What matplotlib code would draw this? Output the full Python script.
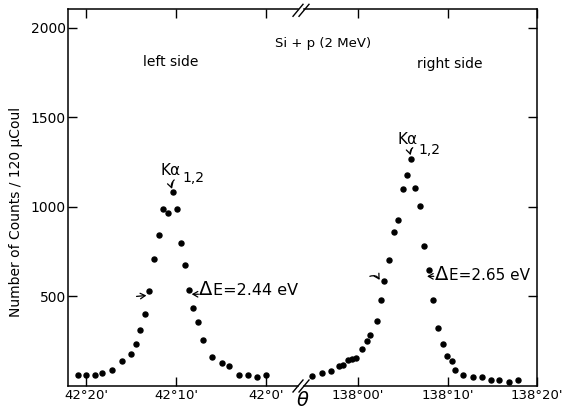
import matplotlib
matplotlib.use("Agg")
import matplotlib.pyplot as plt
from matplotlib.lines import Line2D

# minutes from 42°00' (left side) and from 138°00' (right side)
left_min = [20.9, 20.0, 19.0, 18.2, 17.1, 16.0, 15.0, 14.5, 14.0, 13.5,
            13.0, 12.5, 11.9, 11.4, 10.9, 10.3, 9.9, 9.45, 9.0, 8.5,
            8.1, 7.5, 7.0, 6.0, 4.9, 4.1, 3.0, 1.95, 0.95, 0.0]
left_counts = [59, 64, 64, 72, 91, 142, 180, 236, 310, 403,
               530, 708, 845, 990, 965, 1081, 986, 796, 675, 534,
               437, 356, 258, 161, 130, 109, 64, 64, 49, 64]

right_min = [-5.2, -4.1, -3.1, -2.2, -1.7, -1.2, -0.75, -0.2, 0.4, 0.95,
             1.3, 2.05, 2.6, 2.85, 3.45, 3.95, 4.5, 5.0, 5.5, 5.85,
             6.4, 6.95, 7.4, 7.9, 8.4, 8.9, 9.45, 9.95, 10.45, 10.85,
             11.75, 12.85, 13.9, 14.8, 15.75, 16.85, 17.85]
right_counts = [58, 72, 81, 109, 115, 146, 150, 155, 208, 250,
                282, 362, 481, 584, 701, 859, 928, 1102, 1176, 1266,
                1105, 1005, 779, 649, 481, 325, 236, 169, 137, 87,
                59, 49, 53, 35, 35, 21, 31]

left_ticks = [20, 10, 0]
left_labels = ["42°20'", "42°10'", "42°0'"]
right_ticks = [0, 10, 20]
right_labels = ["138°00'", "138°10'", "138°20'"]
y_ticks = [500, 1000, 1500, 2000]

W, H = 566, 411
fig = plt.figure(figsize=(W / 100, H / 100), dpi=100)
fig.patch.set_facecolor("white")


def fx(px):
    return px / W


def fy(py):
    return 1 - py / H


bot, top = 386, 9.3
ax1 = fig.add_axes([fx(68), fy(bot), fx(298) - fx(68), fy(top) - fy(bot)])
ax2 = fig.add_axes([fx(304), fy(bot), fx(537) - fx(304), fy(top) - fy(bot)])

ax1.set_xlim(22.04, (265.7 - 298) / 8.97)
ax2.set_xlim((304 - 358.3) / 8.95, 20)
for ax in (ax1, ax2):
    ax.set_ylim(0, 2102)
    ax.set_yticks(y_ticks)
    for s in ax.spines.values():
        s.set_linewidth(1.1)
    ax.tick_params(direction="in", length=6.5, width=1.0, top=True,
                   labelsize=9.5, pad=2)

ax1.spines["right"].set_visible(False)
ax2.spines["left"].set_visible(False)
ax1.tick_params(axis="y", left=True, right=False, pad=1.5, labelsize=10)
ax2.tick_params(axis="y", left=False, right=True, labelleft=False)

ax1.set_xticks(left_ticks)
ax1.set_xticklabels(left_labels)
ax2.set_xticks(right_ticks)
ax2.set_xticklabels(right_labels)
ax1.set_yticklabels([str(v) for v in y_ticks])

ax1.plot(left_min, left_counts, "o", color="black", markersize=3.6, clip_on=False)
ax2.plot(right_min, right_counts, "o", color="black", markersize=3.6, clip_on=False)

arrow = dict(arrowstyle="->,head_length=0.35,head_width=0.2", lw=0.9,
             color="black", shrinkA=0, shrinkB=0)


def small_arrow(ax, tip, tail, rad=0.0):
    ax.annotate("", xy=tip, xytext=tail,
                arrowprops=dict(arrow, connectionstyle=f"arc3,rad={rad}"))


# annotations
ax1.text(11.76, 1204, "Kα", fontsize=11, ha="left", va="center")
ax1.text(9.25, 1160, "1,2", fontsize=10, ha="left", va="center")
small_arrow(ax1, (10.45, 1100), (10.2, 1150), 0.3)
small_arrow(ax1, (13.3, 505), (14.4, 500))
small_arrow(ax1, (8.25, 512), (7.5, 512))
ax1.text(7.45, 539, "Δ", fontsize=14, ha="left", va="center")
ax1.text(5.85, 532, "E=2.44 eV", fontsize=11.5, ha="left", va="center")

ax2.text(4.41, 1377, "Kα", fontsize=11, ha="left", va="center")
ax2.text(6.7, 1316, "1,2", fontsize=10, ha="left", va="center")
small_arrow(ax2, (5.86, 1288), (6.1, 1330), 0.3)
small_arrow(ax2, (2.4, 592), (1.3, 612), -0.4)
small_arrow(ax2, (7.7, 612), (8.45, 612))
ax2.text(8.6, 624, "Δ", fontsize=14, ha="left", va="center")
ax2.text(10.2, 617, "E=2.65 eV", fontsize=11, ha="left", va="center")

fig.text(fx(323), fy(44), "Si + p (2 MeV)", fontsize=9.5, ha="center", va="center")
fig.text(fx(171), fy(61.5), "left side", fontsize=10, ha="center", va="center")
fig.text(fx(450), fy(64), "right side", fontsize=10, ha="center", va="center")
fig.text(fx(303), fy(400), "θ", fontsize=14, style="italic", ha="center", va="center")
fig.text(fx(16), fy(212), "Number of Counts / 120 μCoul", fontsize=10,
         rotation=90, ha="center", va="center")

# axis break marks
for yc in (bot, top + 1):
    for dx in (-3, 3):
        fig.add_artist(Line2D([fx(301 + dx - 5), fx(301 + dx + 5)],
                              [fy(yc + 6), fy(yc - 6)],
                              color="black", lw=1.0))

fig.savefig("out.png", dpi=100, facecolor="white")
